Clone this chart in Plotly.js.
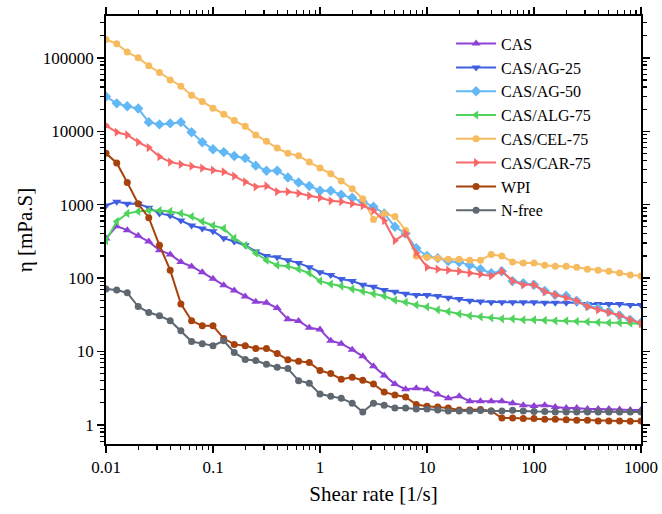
<!DOCTYPE html>
<html>
<head>
<meta charset="utf-8">
<script src="https://cdn.plot.ly/plotly-3.0.1.min.js"></script>
<style>html,body{margin:0;padding:0;background:#fff;}#chart{width:662px;height:514px;}</style>
</head>
<body>
<div id="chart"></div>
<script>
// Shear rate [1/s]
var shearRate = [0.01, 0.0126, 0.0158, 0.02, 0.0251, 0.0316, 0.0398, 0.0501, 0.0631, 0.0794,
  0.1, 0.126, 0.158, 0.2, 0.251, 0.316, 0.398, 0.501, 0.631, 0.794,
  1, 1.26, 1.58, 2, 2.51, 3.16, 3.98, 5.01, 6.31, 7.94,
  10, 12.6, 15.8, 20, 25.1, 31.6, 39.8, 50.1, 63.1, 79.4,
  100, 126, 158, 200, 251, 316, 398, 501, 631, 794, 1000];

var seriesNames = ["CAS", "CAS/AG-25", "CAS/AG-50", "CAS/ALG-75", "CAS/CEL-75", "CAS/CAR-75", "WPI", "N-free"];

var CAS = [347, 510, 450, 377, 314, 240, 210, 165, 144, 120,
  98, 80, 68, 56, 47.5, 46, 39, 27.4, 26, 21,
  20, 14, 12.8, 10.6, 8.6, 6.3, 4.7, 3.6, 3.07, 3.17,
  3.07, 2.6, 2.3, 2.45, 2.1, 2.1, 2.1, 2.1, 1.98, 1.86,
  1.81, 1.86, 1.75, 1.7, 1.7, 1.65, 1.65, 1.65, 1.62, 1.6, 1.6];

var CAS_AG25 = [975, 1100, 1030, 1030, 910, 760, 710, 610, 520, 475,
  435, 350, 316, 280, 230, 200, 192, 175, 160, 141,
  120, 110, 97, 91, 81, 76, 69, 65, 61, 59,
  59, 57, 54, 52, 49, 48, 47, 47, 47, 47,
  47, 46, 46, 46, 46, 44.5, 44.5, 44.5, 44.5, 43, 43];

var CAS_AG50 = [29700, 24000, 21900, 20400, 13300, 12400, 12800, 13300, 9700, 7100,
  5700, 5200, 4600, 4300, 3400, 2900, 2900, 2350, 2000, 1800,
  1550, 1550, 1370, 1240, 1100, 940, 760, 500, 405, 255,
  200, 187, 170, 165, 150, 132, 117, 124, 91, 85,
  81, 67, 59, 57, 49, 42, 39, 35, 31, 27, 24.6];

var CAS_ALG75 = [325, 590, 760, 810, 830, 830, 810, 760, 690, 590,
  520, 475, 350, 280, 218, 175, 150, 145, 132, 117,
  91, 83, 78, 71, 66, 61, 57, 50, 47, 43,
  40.5, 37, 35, 32.5, 30.6, 29.7, 28.8, 27.9, 27.9, 27,
  27, 26.6, 26.2, 26.2, 25.8, 25.4, 25, 24.6, 24.6, 24.3, 23.9];

var CAS_CEL75 = [178000, 155000, 120000, 100000, 78000, 63000, 50000, 41000, 31000, 25500,
  20500, 17000, 14000, 11700, 8900, 7300, 5900, 5000, 4650, 3800,
  3160, 2630, 2100, 1650, 1200, 630, 760, 690, 445, 200,
  192, 187, 180, 180, 175, 175, 210, 200, 165, 160,
  160, 150, 145, 145, 140, 132, 128, 124, 117, 110, 107];

var CAS_CAR75 = [12000, 9700, 8900, 7100, 6000, 4500, 3800, 3550, 3350, 3150,
  2950, 2800, 2450, 2050, 1750, 1800, 1500, 1500, 1430, 1320,
  1240, 1130, 1100, 1030, 970, 830, 605, 325, 405, 220,
  141, 132, 128, 124, 117, 113, 107, 124, 91, 81,
  81, 65, 59, 54, 49, 41, 37, 34, 31, 27, 24];

var WPI = [5000, 3700, 2000, 1030, 665, 280, 128, 44.5, 26.3, 22.4,
  22.4, 15, 12.5, 12, 11, 11, 9.4, 7.7, 7.35, 7.1,
  5.5, 5.0, 4.2, 4.45, 4.05, 3.6, 2.8, 2.55, 2.4, 1.9,
  1.8, 1.75, 1.7, 1.6, 1.6, 1.62, 1.55, 1.24, 1.24, 1.22,
  1.22, 1.19, 1.19, 1.18, 1.16, 1.16, 1.13, 1.13, 1.13, 1.12, 1.13];

var NFREE = [71, 69, 63, 41, 34, 30.7, 26.3, 19.2, 13.7, 12.8,
  12, 14, 9.7, 7.8, 7.55, 6.7, 6.1, 5.85, 4.0, 3.7,
  2.63, 2.45, 2.3, 1.98, 1.5, 1.98, 1.86, 1.7, 1.7, 1.65,
  1.65, 1.6, 1.55, 1.55, 1.55, 1.57, 1.55, 1.55, 1.58, 1.55,
  1.52, 1.52, 1.5, 1.5, 1.5, 1.5, 1.5, 1.5, 1.5, 1.5, 1.5];

var xTickVals = [0.01, 0.1, 1, 10, 100, 1000];
var xTickText = ["0.01", "0.1", "1", "10", "100", "1000"];
var yTickVals = [1, 10, 100, 1000, 10000, 100000];
var yTickText = ["1", "10", "100", "1000", "10000", "100000"];

var seriesValues = [CAS, CAS_AG25, CAS_AG50, CAS_ALG75, CAS_CEL75, CAS_CAR75, WPI, NFREE];
var colors = ["#8f41d6", "#3f5fe0", "#62b8f5", "#4fd35c", "#f7bb5f", "#f86868", "#a7420c", "#5f6770"];
var symbols = ["triangle-up", "triangle-down", "diamond", "triangle-left", "circle", "triangle-right", "circle", "circle"];
var sizes = [8, 8, 8, 8, 7, 8, 7, 7];

var FONT = "Liberation Serif";

// minor (2..9 x decade) tick positions for the log axes
function minorVals(d0, d1) {
  var v = [];
  for (var d = d0; d <= d1; d++) {
    for (var k = 2; k <= 9; k++) v.push(k * Math.pow(10, d));
  }
  return v;
}
var xMinor = minorVals(-2, 2);
var yMinor = minorVals(-1, 5);

var traces = seriesNames.map(function (n, i) {
  return {
    type: "scatter", mode: "lines+markers", name: n,
    x: shearRate, y: seriesValues[i],
    line: {color: colors[i], width: 2},
    marker: {color: colors[i], symbol: symbols[i], size: sizes[i], line: {width: 0}}
  };
});

function makeAxis(tv, tt, mv, extra) {
  var a = {
    type: "log", showgrid: false, zeroline: false,
    showline: true, linecolor: "#000", linewidth: 1.8, mirror: "ticks",
    ticks: "outside", ticklen: 7, tickwidth: 1.5, tickcolor: "#000",
    tickmode: "array", tickvals: tv, ticktext: tt,
    tickfont: {family: FONT, size: 17, color: "#000"},
    minor: {tickmode: "array", tickvals: mv, ticks: "outside", ticklen: 4, tickwidth: 1.2,
      tickcolor: "#000", showgrid: false}
  };
  return Object.assign(a, extra);
}

var layout = {
  width: 662, height: 514,
  margin: {l: 106, r: 21, t: 16, b: 67},
  paper_bgcolor: "#fff", plot_bgcolor: "#fff",
  font: {family: FONT, color: "#000"},
  showlegend: true,
  legend: {x: 0.645, y: 0.975, xanchor: "left", yanchor: "top",
    bgcolor: "rgba(0,0,0,0)", font: {family: FONT, size: 16, color: "#000"},
    itemwidth: 40, tracegroupgap: 0},
  xaxis: makeAxis(xTickVals, xTickText, xMinor, {range: [-2, 3], automargin: "bottom",
    title: {text: "Shear rate [1/s]", font: {family: FONT, size: 21, color: "#000"}, standoff: 10}}),
  yaxis: makeAxis(yTickVals, yTickText, yMinor, {range: [-0.26, 5.57], automargin: "left",
    title: {text: "η [mPa.S]", font: {family: FONT, size: 21, color: "#000"}, standoff: 4}})
};

Plotly.newPlot("chart", traces, layout, {displayModeBar: false, staticPlot: true});
</script>
</body>
</html>
